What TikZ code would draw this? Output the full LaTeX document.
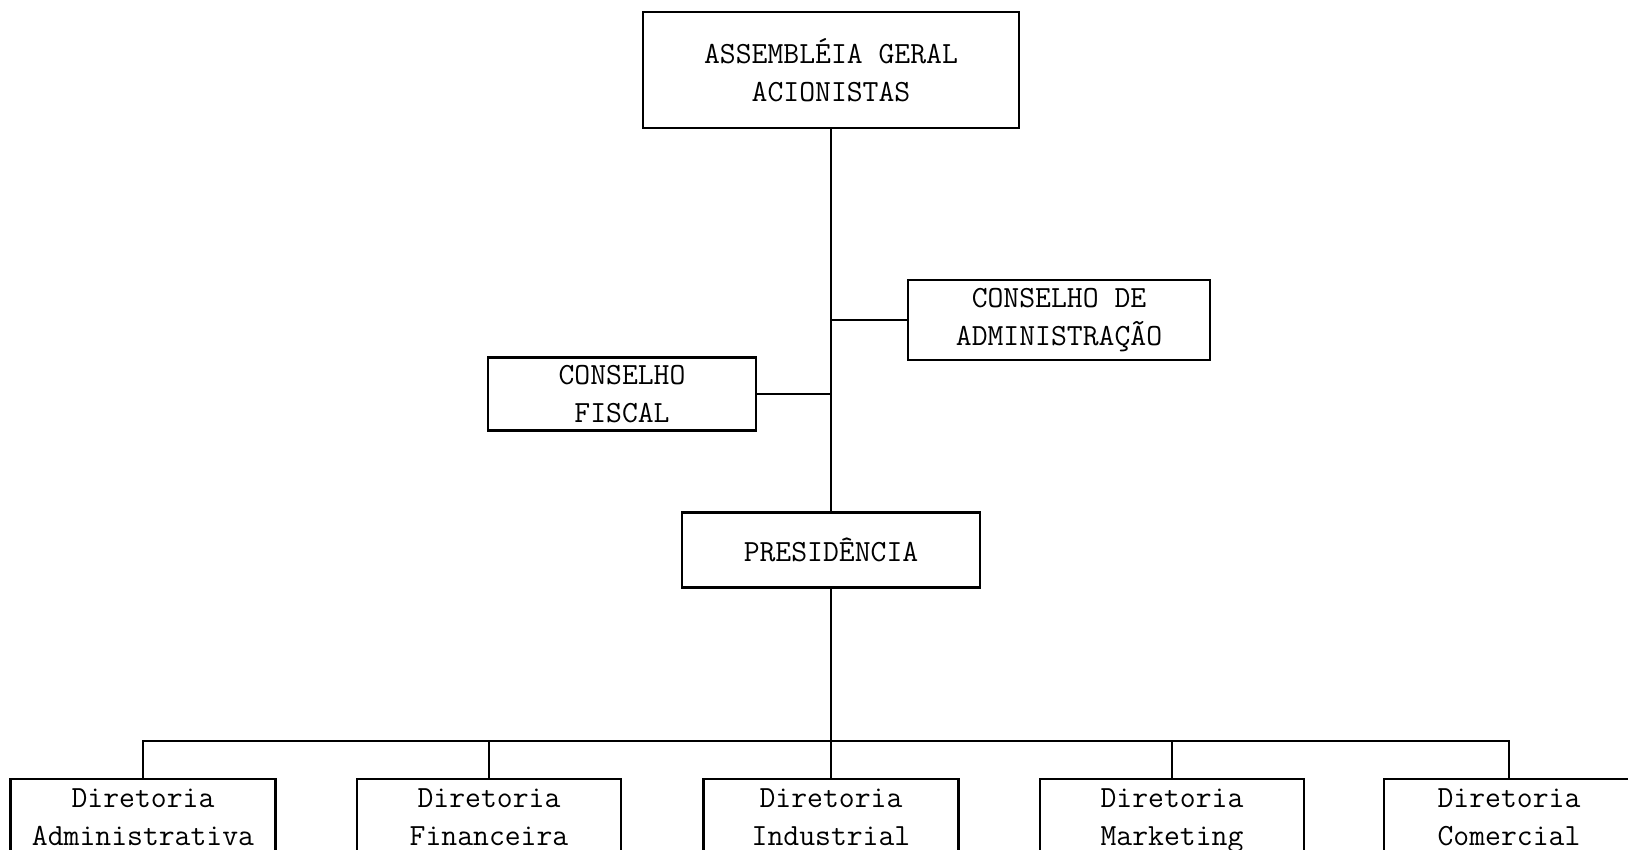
\documentclass[tikz,border=0pt]{standalone}
\usepackage{fontspec}
\begin{document}
\begin{tikzpicture}[x=0.5pt,y=-0.5pt,
  box/.style={draw,line width=1.3pt,inner sep=0pt,align=center,
    font=\ttfamily\fontsize{15.4pt}{19pt}\selectfont},
  dbox/.style={box,minimum height=43.5pt},
  conn/.style={line width=1.3pt}]
\useasboundingbox (0,0) rectangle (1628,850);
\node[box,minimum width=188pt,minimum height=58pt] (ag) at (831,70) {ASSEMBLÉIA GERAL\\ACIONISTAS};
\node[box,minimum width=151pt,minimum height=40pt] (cda) at (1059,320) {CONSELHO DE\\ADMINISTRAÇÃO};
\node[box,minimum width=134pt,minimum height=36.5pt] (cf) at (622,394) {CONSELHO\\FISCAL};
\node[box,minimum width=149pt,minimum height=37.5pt] (pres) at (831,550) {PRESIDÊNCIA};
\node[dbox,minimum width=132.5pt] (d1) at (143,822.5) {Diretoria\\Administrativa\strut};
\node[dbox,minimum width=132pt] (d2) at (489,822.5) {Diretoria\\Financeira\strut};
\node[dbox,minimum width=127.5pt] (d3) at (831,822.5) {Diretoria\\Industrial\strut};
\node[dbox,minimum width=132pt] (d4) at (1172,822.5) {Diretoria\\Marketing\strut};
\node[dbox,minimum width=125pt] (d5) at (1509,822.5) {Diretoria\\Comercial\strut};
\coordinate (bus) at (831,741);
\draw[conn] (ag.south) -- (pres.north);
\draw[conn] (cda.west) -- (cda.west -| ag.south);
\draw[conn] (cf.east) -- (cf.east -| ag.south);
\draw[conn] (pres.south) -- (bus);
\draw[conn] (d1.north) -- (d1.north |- bus) -- (d5.north |- bus) -- (d5.north);
\draw[conn] (d2.north) -- (d2.north |- bus);
\draw[conn] (d3.north) -- (d3.north |- bus);
\draw[conn] (d4.north) -- (d4.north |- bus);
\end{tikzpicture}
\end{document}
